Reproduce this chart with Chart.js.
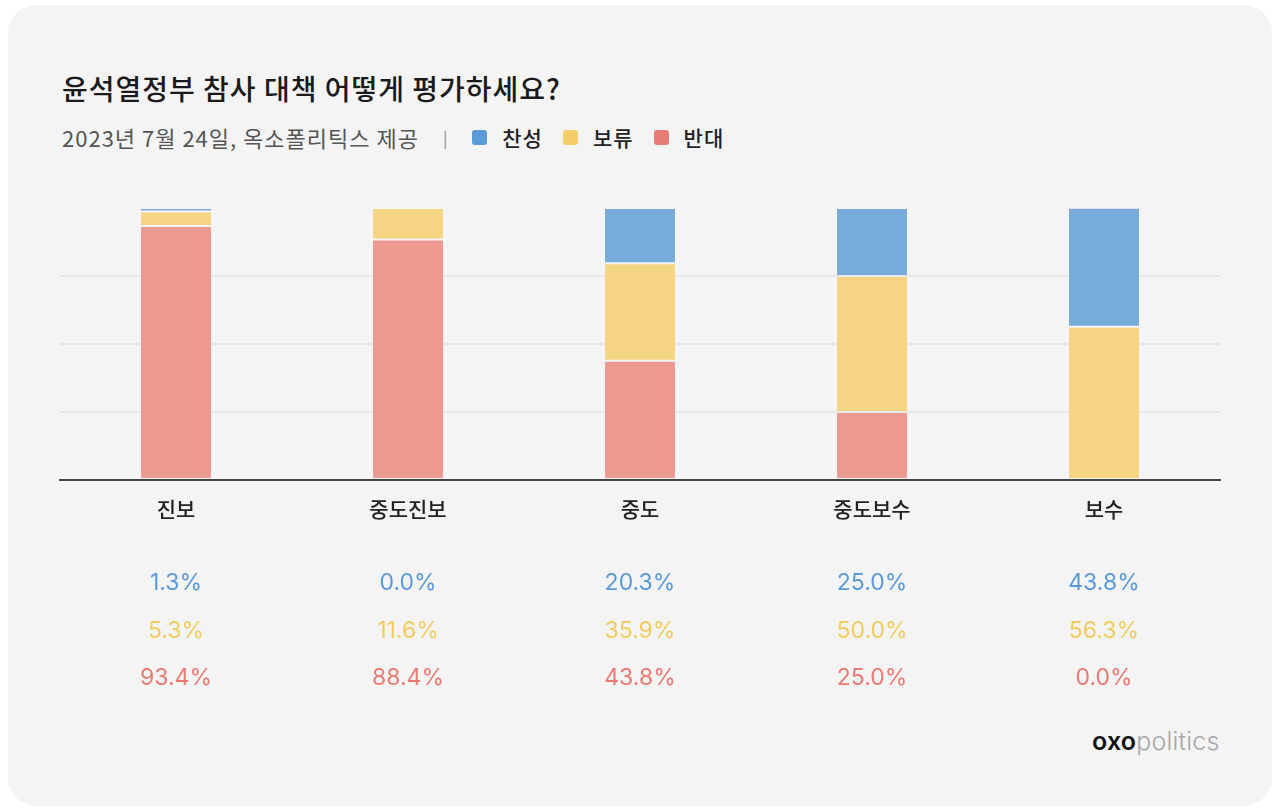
<!DOCTYPE html>
<html><head><meta charset="utf-8">
<script src="https://cdn.jsdelivr.net/npm/chart.js@4/dist/chart.umd.min.js"></script>
<style>
html,body{margin:0;padding:0;background:#fff;width:1280px;height:812px;overflow:hidden;}
#card{position:absolute;left:8px;top:5px;width:1264px;height:801px;border-radius:28px;background:#f4f4f4;}
#title{position:absolute;left:62px;top:70px;font:500 28px "Noto Sans CJK KR";letter-spacing:1px;color:#1a1a1a;white-space:nowrap;line-height:36px;}
#sub{position:absolute;left:62px;top:122px;height:30px;font:400 22px "Noto Sans CJK KR";letter-spacing:1px;color:#555;display:flex;align-items:center;white-space:nowrap;}
#sub .sep{margin:0 24px 0 24px;color:#888;font-size:16px;}
#sub .item{display:flex;align-items:center;margin-right:20px;color:#222;font-weight:500;font-size:21px;}
#sub .sw{width:15px;height:15px;border-radius:3px;margin-right:15px;}
#logo{position:absolute;left:1092px;top:726px;font:25px "Inter";letter-spacing:0.2px;white-space:nowrap;}
#logo b{font-weight:600;color:#111;}
#logo span{font-weight:300;color:#a8a8a8;}
#wrap{position:absolute;left:0;top:0;width:1280px;height:812px;}
</style>
</head><body>
<div id="card"></div>
<div id="title">윤석열정부 참사 대책 어떻게 평가하세요?</div>
<div id="sub"><span>2023년 7월 24일, 옥소폴리틱스 제공</span><span class="sep">|</span><span id="legend" style="display:flex;align-items:center"></span></div>
<div id="logo"><b>oxo</b><span>politics</span></div>
<div id="wrap"><canvas id="c" width="1280" height="812"></canvas></div>
<script>
const categories = ['진보', '중도진보', '중도', '중도보수', '보수'];
const approve = [1.3, 0.0, 20.3, 25.0, 43.8];   // 찬성
const pending = [5.3, 11.6, 35.9, 50.0, 56.3];  // 보류
const oppose  = [93.4, 88.4, 43.8, 25.0, 0.0];  // 반대
const seriesNames = ['찬성', '보류', '반대'];
const barColors = ['#77abdb', '#f5d583', '#eb9991'];
const legendColors = ['#5b9bd8', '#f4cd66', '#e97d76'];
const textColors = ['#5a9adb', '#f3cb5f', '#ea7a72'];
const seriesValues = [approve, pending, oppose];

// legend
const lg = document.getElementById('legend');
seriesNames.forEach((n, i) => {
  const it = document.createElement('span'); it.className = 'item';
  const sw = document.createElement('span'); sw.className = 'sw'; sw.style.background = legendColors[i];
  it.appendChild(sw); it.appendChild(document.createTextNode(n)); lg.appendChild(it);
});

const labelPlugin = {
  id: 'labelsBelow',
  afterDraw(chart) {
    const ctx = chart.ctx, xs = chart.scales.x;
    ctx.save();
    ctx.textAlign = 'center'; ctx.textBaseline = 'middle';
    const rows = [583, 631, 678];
    categories.forEach((cat, i) => {
      const x = xs.getPixelForValue(i);
      ctx.font = '500 21px "Noto Sans CJK KR"';
      ctx.fillStyle = '#222';
      ctx.fillText(cat, x, 509);
      ctx.font = '400 23px "Inter"';
      seriesValues.forEach((vals, s) => {
        ctx.fillStyle = textColors[s];
        ctx.fillText(vals[i].toFixed(1) + '%', x, rows[s]);
      });
    });
    ctx.restore();
  }
};

new Chart(document.getElementById('c'), {
  type: 'bar',
  data: {
    labels: categories,
    datasets: [2, 1, 0].map(s => ({
      label: seriesNames[s],
      data: seriesValues[s],
      backgroundColor: barColors[s],
      borderColor: 'rgba(255,255,255,0.12)',
      borderWidth: 1,
      borderSkipped: false,
      barPercentage: 0.31,
      categoryPercentage: 1.0
    }))
  },
  options: {
    responsive: false,
    animation: false,
    layout: { padding: { left: 60, right: 60, top: 208, bottom: 332 } },
    plugins: { legend: { display: false }, tooltip: { enabled: false } },
    scales: {
      x: {
        stacked: true,
        grid: { display: false, drawTicks: false },
        ticks: { display: false },
        border: { display: true, color: '#444', width: 2 }
      },
      y: {
        stacked: true, min: 0, max: 100,
        ticks: { display: false, stepSize: 25 },
        grid: {
          drawTicks: false, lineWidth: 2,
          color: c => (c.tick && (c.tick.value === 0 || c.tick.value === 100)) ? 'rgba(0,0,0,0)' : '#e6e6e6'
        },
        border: { display: false }
      }
    }
  },
  plugins: [labelPlugin]
});
</script>
</body></html>
